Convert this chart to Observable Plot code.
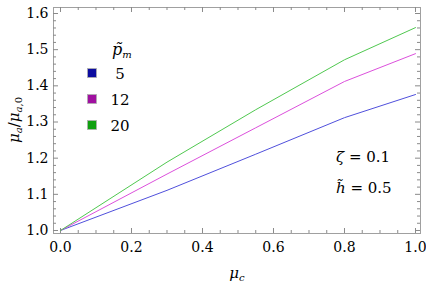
<!DOCTYPE html>
<html>
<head>
<meta charset="utf-8">
<script src="https://cdn.jsdelivr.net/npm/d3@7"></script>
<script src="https://cdn.jsdelivr.net/npm/@observablehq/plot@0.6"></script>
<style>
  html, body { margin: 0; padding: 0; background: #fff; }
  #chart { position: relative; width: 426px; height: 284px; }
</style>
</head>
<body>
<div id="chart"></div>
<script>
// ---- data ----
const muC = [0, 0.3, 0.55, 0.8, 1.0];
const seriesNames = ["5", "12", "20"];
const ratio5  = [1.0, 1.111, 1.211, 1.312, 1.376];
const ratio12 = [1.0, 1.156, 1.284, 1.412, 1.489];
const ratio20 = [1.0, 1.189, 1.334, 1.472, 1.561];
const lineColors   = ["#5050dc", "#dc50dc", "#50c850"];
const swatchColors = ["#0c0ca0", "#a010a0", "#10a010"];
const xMajor = [0, 0.2, 0.4, 0.6, 0.8, 1.0];
const yMajor = [1.0, 1.1, 1.2, 1.3, 1.4, 1.5, 1.6];
const xMinor = d3.range(0, 1.0001, 0.05).filter(v => Math.abs(v * 5 - Math.round(v * 5)) > 1e-6);
const yMinor = d3.range(1.0, 1.6001, 0.02).filter(v => Math.abs(v * 10 - Math.round(v * 10)) > 1e-6);

const rows = [];
[ratio5, ratio12, ratio20].forEach((arr, i) => {
  arr.forEach((v, j) => rows.push({mu: muC[j], r: v, p: seriesNames[i]}));
});

const W = 426, H = 284;
const mT = 7, mB = 51, mL = 53, mR = 6;
const innerH = H - mT - mB, innerW = W - mL - mR;
const tickCol = "#8a8a8a";
const major = 5, minor = 3;
const serif = "DejaVu Serif";

const plot = Plot.plot({
  width: W, height: H,
  marginTop: mT, marginBottom: mB, marginLeft: mL, marginRight: mR,
  style: {fontFamily: serif, fontSize: "14px", color: "#000", background: "#fff"},
  x: {domain: [-0.0197, 1.0141], label: null},
  y: {domain: [0.9917, 1.6166], label: null},
  color: {domain: seriesNames, range: lineColors},
  marks: [
    Plot.frame({stroke: "#a0a0a0"}),
    Plot.tickX(xMajor, {x: d => d, insetTop: innerH - major, stroke: tickCol}),
    Plot.tickX(xMajor, {x: d => d, insetBottom: innerH - major, stroke: tickCol}),
    Plot.tickX(xMinor, {x: d => d, insetTop: innerH - minor, stroke: tickCol}),
    Plot.tickX(xMinor, {x: d => d, insetBottom: innerH - minor, stroke: tickCol}),
    Plot.tickY(yMajor, {y: d => d, insetRight: innerW - major, stroke: tickCol}),
    Plot.tickY(yMajor, {y: d => d, insetLeft: innerW - major, stroke: tickCol}),
    Plot.tickY(yMinor, {y: d => d, insetRight: innerW - minor, stroke: tickCol}),
    Plot.tickY(yMinor, {y: d => d, insetLeft: innerW - minor, stroke: tickCol}),
    Plot.axisX(xMajor, {tickSize: 0, tickPadding: 9, tickFormat: d3.format(".1f"), label: null, fontSize: 14}),
    Plot.axisY(yMajor, {tickSize: 0, tickPadding: 5, tickFormat: d3.format(".1f"), label: null, fontSize: 14}),
    Plot.line(rows, {x: "mu", y: "r", z: "p", stroke: "p", strokeWidth: 1})
  ]
});

const svg = d3.select(plot);
svg.selectAll("text").attr("font-family", serif).style("font-family", serif);

function addText(parent, anchor) {
  return parent.append("text").attr("font-family", serif).style("font-family", serif)
    .attr("text-anchor", anchor || "start").attr("fill", "#000");
}

// Y axis title  μa/μa,0
const yl = addText(svg, "middle")
  .attr("transform", "translate(19,120) rotate(-90)")
  .attr("font-size", 15);
yl.append("tspan").attr("font-style", "italic").text("μ");
yl.append("tspan").attr("font-style", "italic").attr("font-size", 10).attr("dy", 3).text("a");
yl.append("tspan").attr("dy", -3).text("/");
yl.append("tspan").attr("font-style", "italic").text("μ");
yl.append("tspan").attr("font-size", 10).attr("dy", 3).append("tspan").attr("font-style", "italic").text("a");
yl.append("tspan").attr("font-size", 10).text(",0");

// X axis title  μc
const xl = addText(svg, "middle").attr("x", 237).attr("y", 278).attr("font-size", 15);
xl.append("tspan").attr("font-style", "italic").text("μ");
xl.append("tspan").attr("font-style", "italic").attr("font-size", 10).attr("dy", 3).text("c");

// Legend
const lg = svg.append("g");
const lt = addText(lg, "start").attr("x", 112).attr("y", 55).attr("font-size", 16);
lt.append("tspan").attr("font-style", "italic").text("p\u0303");
lt.append("tspan").attr("font-style", "italic").attr("font-size", 10).attr("dy", 3).text("m");
seriesNames.forEach((name, i) => {
  const cy = 73 + i * 26;
  lg.append("rect").attr("x", 87.5).attr("y", cy - 4.5).attr("width", 9).attr("height", 9)
    .attr("fill", swatchColors[i]).attr("stroke", "#b0b0b0").attr("stroke-width", 0.8);
  addText(lg, "middle").attr("x", 120).attr("y", cy + 5.5)
    .attr("font-size", 15).text(name);
});

// Parameter annotations
const a1 = addText(svg, "start").attr("x", 336).attr("y", 162).attr("font-size", 15);
a1.append("tspan").attr("font-style", "italic").text("ζ");
a1.append("tspan").text(" = 0.1");
const a2 = addText(svg, "start").attr("x", 336).attr("y", 193).attr("font-size", 15);
a2.append("tspan").attr("font-style", "italic").text("h\u0303");
a2.append("tspan").text(" = 0.5");

document.getElementById("chart").appendChild(plot);
</script>
</body>
</html>
